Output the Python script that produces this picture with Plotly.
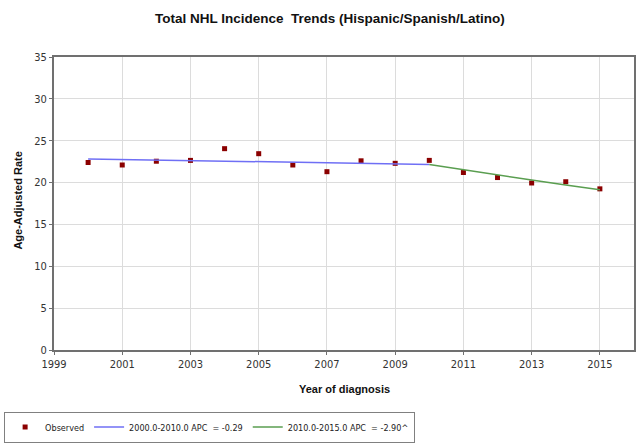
import plotly.graph_objects as go

years = [2000, 2001, 2002, 2003, 2004, 2005, 2006, 2007, 2008, 2009, 2010, 2011, 2012, 2013, 2014, 2015]
observed = [22.4, 22.1, 22.55, 22.65, 24.05, 23.45, 22.1, 21.3, 22.6, 22.3, 22.65, 21.2, 20.6, 19.95, 20.1, 19.25]

seg1_years = [2000, 2001, 2002, 2003, 2004, 2005, 2006, 2007, 2008, 2009, 2010]
seg1_fit = [22.82, 22.75, 22.69, 22.62, 22.56, 22.49, 22.43, 22.36, 22.30, 22.23, 22.17]
seg2_years = [2010, 2011, 2012, 2013, 2014, 2015]
seg2_fit = [22.17, 21.53, 20.90, 20.30, 19.71, 19.14]

x_ticks = [1999, 2001, 2003, 2005, 2007, 2009, 2011, 2013, 2015]
y_ticks = [0, 5, 10, 15, 20, 25, 30, 35]

title_text = "Total NHL Incidence  Trends (Hispanic/Spanish/Latino)"
x_title = "Year of diagnosis"
y_title = "Age-Adjusted Rate"
names = ["Observed", "2000.0-2010.0 APC  = -0.29", "2010.0-2015.0 APC  = -2.90^"]

fig = go.Figure()
fig.add_trace(go.Scatter(x=years, y=observed, mode="markers", name=names[0],
                         marker=dict(symbol="square", size=5, color="#8b0000")))
fig.add_trace(go.Scatter(x=seg1_years, y=seg1_fit, mode="lines", name=names[1],
                         line=dict(color="#6f6ff5", width=1.5)))
fig.add_trace(go.Scatter(x=seg2_years, y=seg2_fit, mode="lines", name=names[2],
                         line=dict(color="#5a9e50", width=1.5)))

tick_font = dict(family="DejaVu Sans Condensed, Liberation Sans", size=11, color="#333333")
title_font = dict(family="Liberation Sans, Arial", size=11, color="#111")

fig.update_layout(
    width=639, height=443,
    margin=dict(l=54, r=5, t=57, b=93, autoexpand=False),
    paper_bgcolor="white", plot_bgcolor="white",
    showlegend=True,
    legend=dict(orientation="h", x=-0.086, y=-0.21, xanchor="left", yanchor="top",
                bordercolor="#808080", borderwidth=1, bgcolor="white",
                font=dict(family="DejaVu Sans Condensed, Liberation Sans", size=9, color="#222"),
                itemwidth=30, tracegroupgap=0),
    annotations=[
        dict(text="<b>" + title_text + "</b>", xref="paper", yref="paper", x=0.475, y=1.0,
             yshift=39, xanchor="center", yanchor="middle", showarrow=False,
             font=dict(family="Liberation Sans, Arial", size=13.5, color="#111")),
        dict(text="<b>" + x_title + "</b>", xref="paper", yref="paper", x=0.5, y=0,
             yshift=-39, xanchor="center", yanchor="middle", showarrow=False, font=title_font),
        dict(text="<b>" + y_title + "</b>", xref="paper", yref="paper", x=0, y=0.51,
             xshift=-36, xanchor="center", yanchor="middle", showarrow=False, textangle=-90,
             font=title_font),
    ],
)
fig.update_xaxes(range=[1999, 2016], tickvals=x_ticks, showgrid=True, gridcolor="#dcdcdc", gridwidth=1,
                 showline=True, linecolor="#707070", linewidth=2, mirror=True,
                 ticks="outside", ticklen=3, tickcolor="#707070",
                 tickfont=tick_font, zeroline=False, automargin=False)
fig.update_yaxes(range=[0, 35], tickvals=y_ticks, showgrid=True, gridcolor="#dcdcdc", gridwidth=1,
                 showline=True, linecolor="#707070", linewidth=2, mirror=True,
                 ticks="outside", ticklen=3, tickcolor="#707070",
                 tickfont=tick_font, zeroline=False, automargin=False)

fig.write_html("out.html")
